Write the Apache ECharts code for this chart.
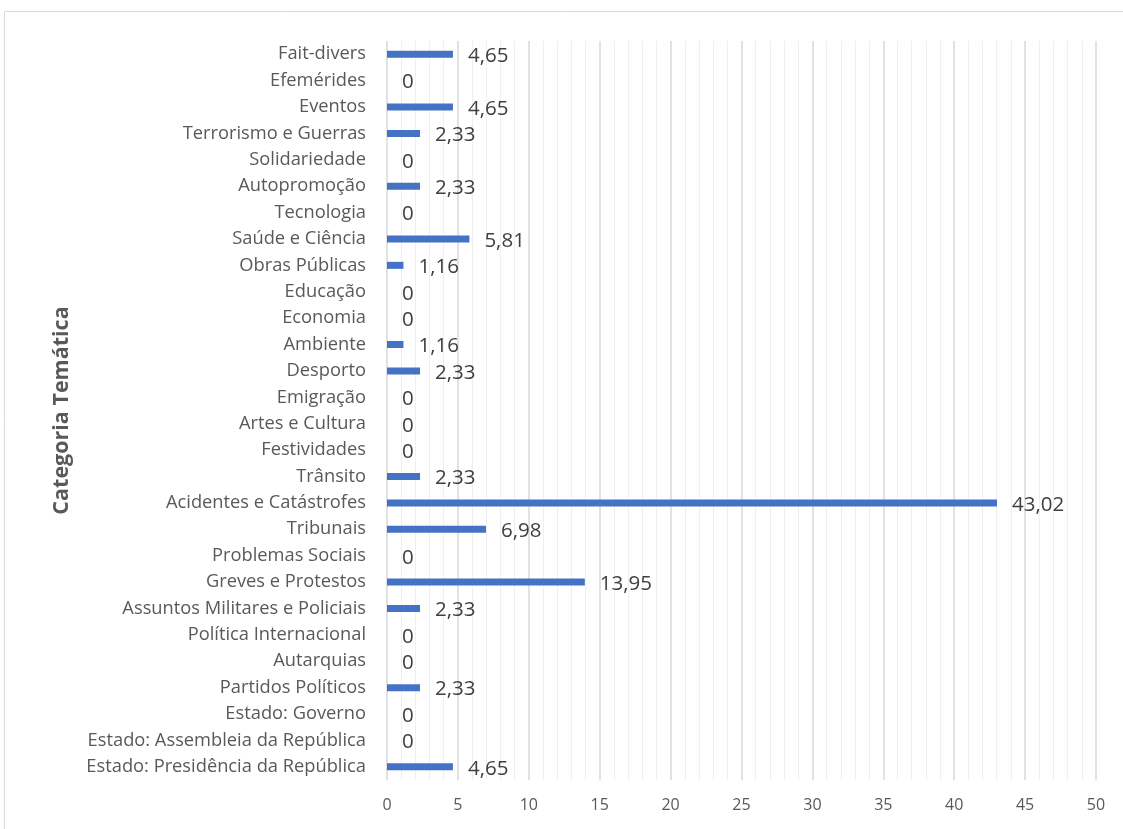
<!DOCTYPE html>
<html><head><meta charset="utf-8">
<script src="https://cdn.jsdelivr.net/npm/echarts@6/dist/echarts.min.js"></script>
<style>html,body{margin:0;padding:0;background:#fff}#c{width:1123px;height:829px}</style>
</head><body><div id="c"></div>
<script>
const categories = ["Estado: Presidência da República","Estado: Assembleia da República","Estado: Governo","Partidos Políticos","Autarquias","Política Internacional","Assuntos Militares e Policiais","Greves e Protestos","Problemas Sociais","Tribunais","Acidentes e Catástrofes","Trânsito","Festividades","Artes e Cultura","Emigração","Desporto","Ambiente","Economia","Educação","Obras Públicas","Saúde e Ciência","Tecnologia","Autopromoção","Solidariedade","Terrorismo e Guerras","Eventos","Efemérides","Fait-divers"];
const values = [4.65,0,0,2.33,0,0,2.33,13.95,0,6.98,43.02,2.33,0,0,0,2.33,1.16,0,0,1.16,5.81,0,2.33,0,2.33,4.65,0,4.65];
const axisTitle = "Categoria Temática";
const font = "Open Sans";
const chart = echarts.init(document.getElementById('c'), null, {renderer:'canvas'});
chart.setOption({
  animation:false,
  textStyle:{fontFamily:font},
  graphic:[{type:'rect',shape:{x:4.5,y:11.5,width:1200,height:900},style:{fill:null,stroke:'#d9d9d9',lineWidth:1}}],
  grid:{left:387,right:27,top:41,bottom:49,containLabel:false},
  xAxis:{type:'value',min:0,max:50,interval:5,
    axisLine:{show:false},axisTick:{show:false},
    axisLabel:{color:'#595959',fontSize:16,margin:17,fontFamily:font},
    splitLine:{show:true,lineStyle:{color:'#d9d9d9',width:1.5}},
    minorTick:{show:false,splitNumber:5},
    minorSplitLine:{show:true,lineStyle:{color:'#efefef',width:1}}
  },
  yAxis:{type:'category',data:categories,
    name:axisTitle,nameLocation:'middle',nameGap:314,
    nameTextStyle:{color:'#595959',fontSize:21.5,fontWeight:'bold',fontFamily:font},
    axisLine:{show:false},axisTick:{show:false},
    axisLabel:{color:'#595959',fontSize:18.3,margin:21,fontFamily:font},
    splitLine:{show:false}
  },
  series:[{type:'bar',data:values,barWidth:7,
    itemStyle:{color:'#4472C4'},
    label:{show:true,position:'right',distance:15,color:'#404040',fontSize:20.5,fontFamily:font,offset:[0,2],
      formatter:p=>String(p.value).replace('.',',')}
  }]
});
</script></body></html>
